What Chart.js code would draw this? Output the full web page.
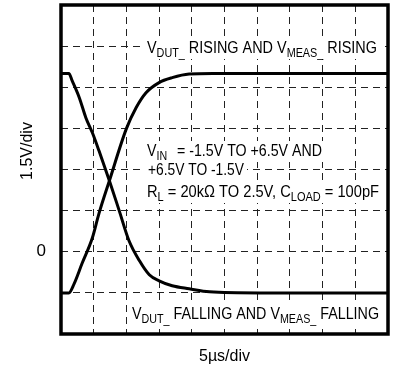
<!DOCTYPE html>
<html>
<head>
<meta charset="utf-8">
<script src="https://cdn.jsdelivr.net/npm/chart.js@4.4.1/dist/chart.umd.min.js"></script>
<style>
  html, body { margin: 0; padding: 0; background: #fff; }
  #wrap { width: 394px; height: 371px; }
</style>
</head>
<body>
<div id="wrap"><canvas id="scope"></canvas></div>
<script>
// 读图得到的数据：时间 µs，电压 V
const timeRise = [0, 1.2, 2.0, 3.2, 4.8, 5.8, 7.4, 10.0, 11.5, 13.0, 15.0, 17.0, 19.6, 23.2, 50];
const voltRise = [-1.5, -1.5, -1.17, -0.44, 0.51, 1.39, 2.59, 4.49, 5.26, 5.8, 6.17, 6.35, 6.48, 6.5, 6.5];
const timeFall = [0, 1.2, 1.7, 2.8, 3.8, 4.8, 5.8, 7.4, 8.9, 10.4, 12.0, 13.5, 15.0, 17.0, 19.6, 22.7, 30.4, 50];
const voltFall = [6.5, 6.5, 6.24, 5.62, 4.89, 4.34, 3.69, 2.59, 1.5, 0.4, -0.33, -0.84, -1.06, -1.24, -1.35, -1.46, -1.5, -1.5];
const yTickLabels = { 0: '0' };
const xTitle = '5\u00b5s/div';
const yTitle = '1.5V/div';

const toPoints = (ts, vs) => ts.map((t, i) => ({ x: t, y: vs[i] }));

// 注释文字（[文字, 是否下标]）
const notes = [
    { x: 147, y: 53, w: 230, parts: [['V', 0], ['DUT_', 1], [' RISING AND V', 0], ['MEAS_', 1], [' RISING', 0]] },
    { x: 147, y: 156, w: 175, parts: [['V', 0], ['IN_', 1], [' = -1.5V TO +6.5V AND', 0]] },
    { x: 148, y: 175, w: 96, parts: [['+6.5V TO -1.5V', 0]] },
    { x: 147, y: 197, w: 232, parts: [['R', 0], ['L', 1], [' = 20k\u03a9 TO 2.5V, C', 0], ['LOAD', 1], [' = 100pF', 0]] },
    { x: 132, y: 319, w: 247, parts: [['V', 0], ['DUT_', 1], [' FALLING AND V', 0], ['MEAS_', 1], [' FALLING', 0]] }
];

const MAIN_FONT = '16px "Liberation Sans", Arial, sans-serif';
const SUB_FONT = '12px "Liberation Sans", Arial, sans-serif';

function drawNote(ctx, n) {
    let nat = 0;
    n.parts.forEach(p => { ctx.font = p[1] ? SUB_FONT : MAIN_FONT; nat += ctx.measureText(p[0]).width; });
    const k = n.w / nat;
    ctx.save();
    ctx.fillStyle = '#fff';
    ctx.fillRect(n.x - 3, n.y - 15, n.w + 6, 21);
    ctx.translate(n.x, n.y);
    ctx.scale(k, 1);
    ctx.fillStyle = '#000';
    ctx.textBaseline = 'alphabetic';
    ctx.textAlign = 'left';
    let cx = 0;
    n.parts.forEach(p => {
        ctx.font = p[1] ? SUB_FONT : MAIN_FONT;
        ctx.fillText(p[0], cx, p[1] ? 4 : 0);
        cx += ctx.measureText(p[0]).width;
    });
    ctx.restore();
}

const scopeDeco = {
    id: 'scopeDeco',
    beforeDatasetsDraw(chart) {
        const ctx = chart.ctx;
        notes.forEach(n => drawNote(ctx, n));
        // 纵轴标题
        ctx.save();
        ctx.translate(28, 151);
        ctx.rotate(-Math.PI / 2);
        ctx.font = MAIN_FONT;
        ctx.fillStyle = '#000';
        ctx.textAlign = 'center';
        ctx.textBaseline = 'middle';
        ctx.fillText(yTitle, 0, 0);
        ctx.restore();
    },
    afterDatasetsDraw(chart) {
        const a = chart.chartArea;
        const ctx = chart.ctx;
        ctx.save();
        ctx.strokeStyle = '#000';
        ctx.lineWidth = 3.5;
        ctx.strokeRect(a.left, a.top, a.right - a.left, a.bottom - a.top);
        ctx.restore();
    }
};

new Chart(document.getElementById('scope').getContext('2d'), {
    type: 'line',
    data: {
        datasets: [
            { data: toPoints(timeRise, voltRise), borderColor: '#000', borderWidth: 3, pointRadius: 0, cubicInterpolationMode: 'monotone', fill: false },
            { data: toPoints(timeFall, voltFall), borderColor: '#000', borderWidth: 3, pointRadius: 0, cubicInterpolationMode: 'monotone', fill: false }
        ]
    },
    options: {
        responsive: true,
        maintainAspectRatio: false,
        animation: false,
        layout: { padding: { left: 0, right: 6, top: 5, bottom: 0 } },
        plugins: { legend: { display: false }, tooltip: { enabled: false } },
        scales: {
            x: {
                type: 'linear', min: 0, max: 50,
                ticks: { display: false, stepSize: 5 },
                grid: { color: '#222', lineWidth: 1, drawTicks: false },
                border: { display: false, dash: [7, 5] },
                title: { display: true, text: xTitle, color: '#000', font: { family: '"Liberation Sans", Arial, sans-serif', size: 16 }, padding: { top: 0, bottom: 5 } },
                afterFit: s => { s.height = 37; s.paddingLeft = 0; s.paddingRight = 0; }
            },
            y: {
                type: 'linear', min: -3, max: 9,
                ticks: {
                    stepSize: 1.5, padding: 15, color: '#000',
                    font: { family: '"Liberation Sans", Arial, sans-serif', size: 17 },
                    callback: v => yTickLabels[v] || ''
                },
                grid: { color: '#222', lineWidth: 1, drawTicks: false },
                border: { display: false, dash: [7, 5] },
                afterFit: s => { s.width = 61; s.paddingTop = 0; s.paddingBottom = 0; }
            }
        }
    },
    plugins: [scopeDeco]
});
</script>
</body>
</html>
